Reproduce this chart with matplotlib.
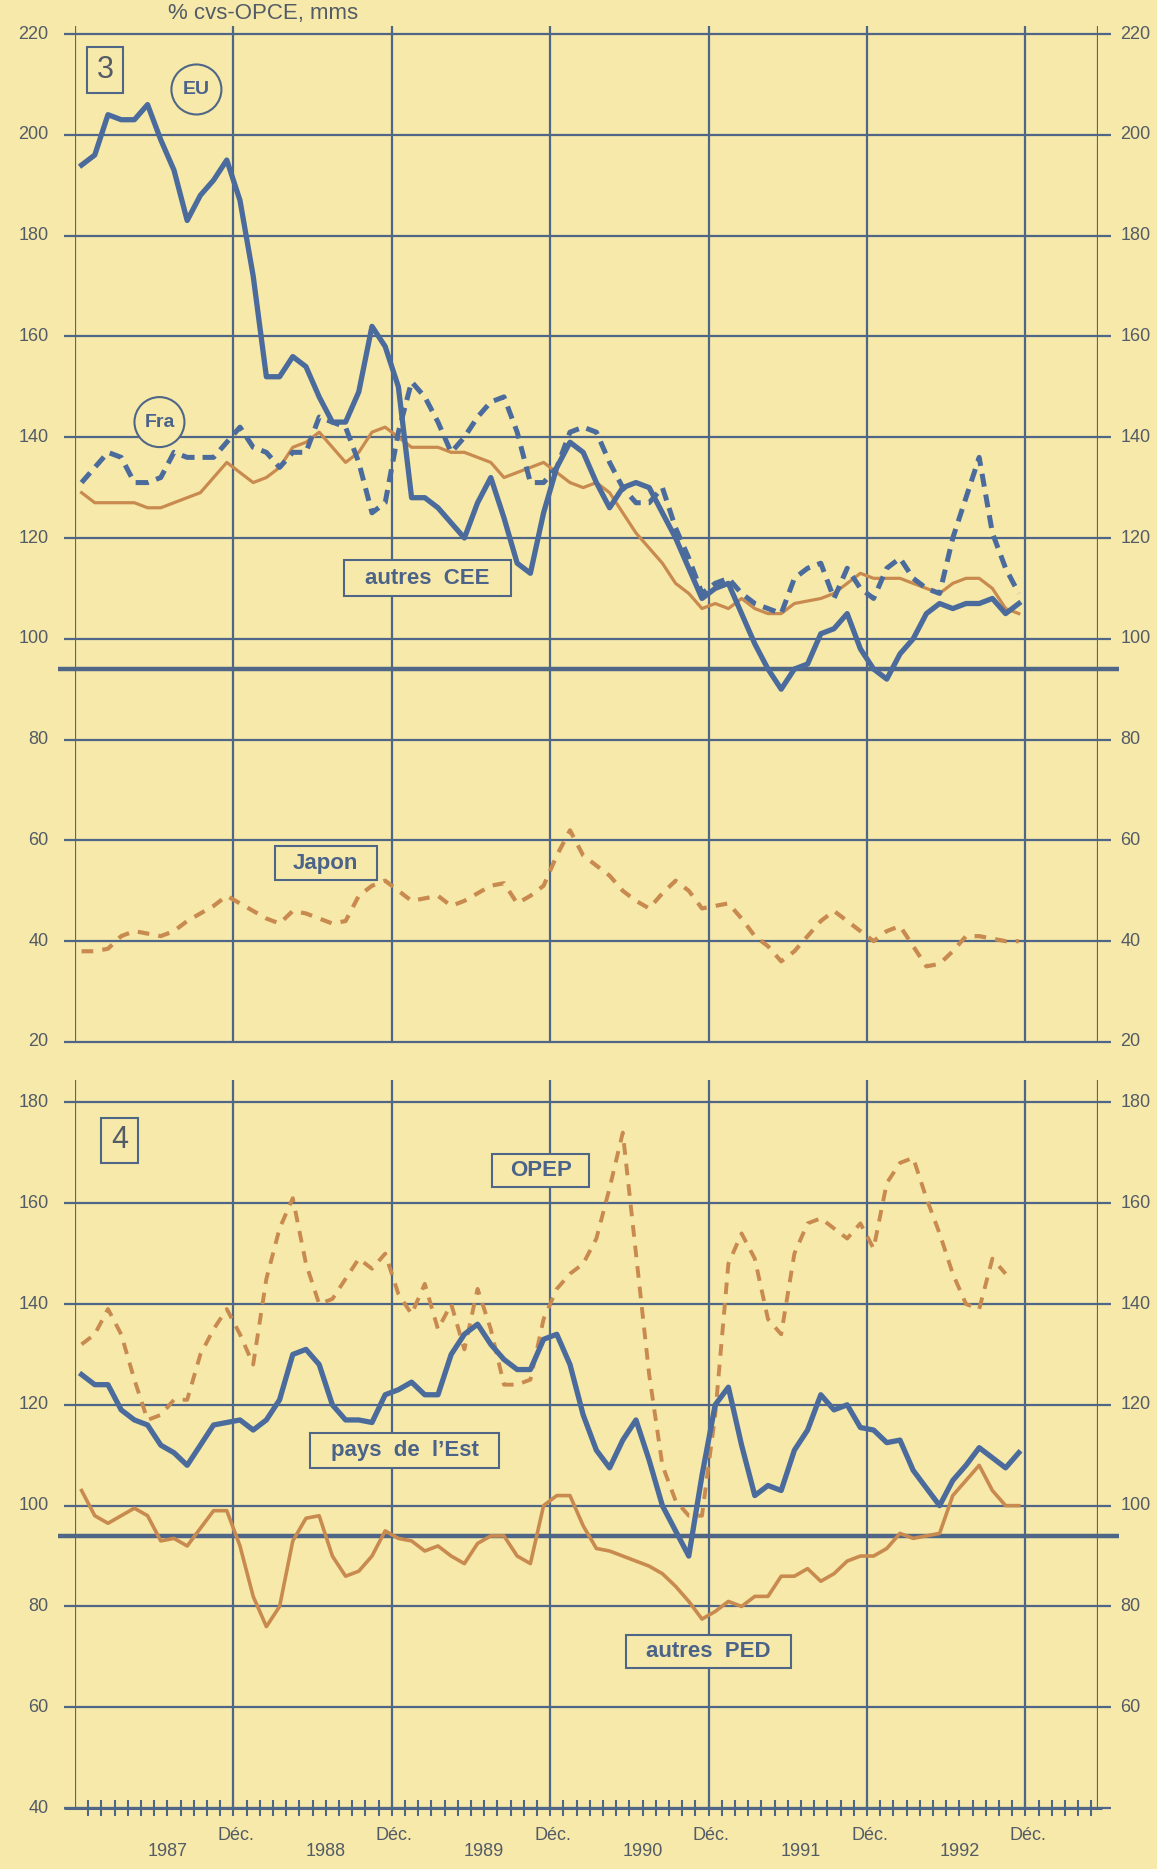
import numpy as np
import matplotlib.pyplot as plt
from matplotlib.patches import Rectangle, Ellipse

plt.rcParams['font.family'] = ['Liberation Sans', 'DejaVu Sans']

# Indices mensuels, janvier 1987 -> décembre 1992
eu = [194, 196, 204, 203, 203, 206, 199, 193, 183, 188, 191, 195,
      187, 172, 152, 152, 156, 154, 148, 143, 143, 149, 162, 158,
      150, 128, 128, 126, 123, 120, 127, 132, 124, 115, 113, 125,
      134, 139, 137, 131, 126, 130, 131, 130, 125, 120, 114, 108,
      110, 111, 105, 99, 94, 90, 94, 95, 101, 102, 105, 98,
      94, 92, 97, 100, 105, 107, 106, 107, 107, 108, 105, 107]
cee = [131, 134, 137, 136, 131, 131, 132, 137, 136, 136, 136, 139,
       142, 138, 137, 134, 137, 137, 144, 143, 142, 135, 125, 127,
       141, 151, 148, 143, 137, 140, 144, 147, 148, 141, 131, 131,
       134, 141, 142, 141, 135, 130, 127, 127, 130, 122, 116, 109,
       111, 112, 109, 107, 106, 105, 112, 114, 115, 108, 114, 110,
       108, 114, 116, 112, 110, 109, 120, 128, 136, 121, 114, 109]
france = [129, 127, 127, 127, 127, 126, 126, 127, 128, 129, 132, 135,
          133, 131, 132, 134, 138, 139, 141, 138, 135, 137, 141, 142,
          140, 138, 138, 138, 137, 137, 136, 135, 132, 133, 134, 135,
          133, 131, 130, 131, 129, 125, 121, 118, 115, 111, 109, 106,
          107, 106, 108, 106, 105, 105, 107, 107.5, 108, 109, 111, 113,
          112, 112, 112, 111, 110, 109, 111, 112, 112, 110, 106, 105]
japon = [38, 38, 38.5, 41, 42, 41.5, 41, 42, 44, 45.5, 47, 49,
         47.5, 46, 44.5, 43.5, 46, 45.5, 44.5, 43.5, 44, 49, 51, 52,
         50, 48, 48.5, 49, 47, 48, 49.5, 51, 51.5, 47.5, 49, 51,
         57, 62, 57, 55, 53, 50, 48, 46.5, 49.5, 52, 50, 46.5,
         47, 47.5, 44.5, 41, 39, 36, 38, 41, 44, 46, 44, 42,
         40, 42, 43, 39, 35, 35.5, 38, 41, 41, 40.5, 40, 40]

opep = [132, 134, 139, 134, 125, 117, 118, 121, 121, 130, 135, 139,
        134, 128, 145, 155, 161, 148, 140, 141, 145, 149, 147, 150,
        142, 138, 144, 135, 140, 131, 143, 135, 124, 124, 125, 137,
        143, 146, 148, 153, 163, 174, 150, 126, 108, 101, 98, 98,
        118, 148, 154, 149, 137, 134, 150, 156, 157, 155, 153, 156,
        151, 164, 168, 169, 161, 154, 146, 140, 139, 149, 146]
est = [126, 124, 124, 119, 117, 116, 112, 110.5, 108, 112, 116, 116.5,
       117, 115, 117, 121, 130, 131, 128, 120, 117, 117, 116.5, 122,
       123, 124.5, 122, 122, 130, 134, 136, 132, 129, 127, 127, 133,
       134, 128, 118, 111, 107.5, 113, 117, 109, 100, 95, 90, 106,
       120, 123.5, 112, 102, 104, 103, 111, 115, 122, 119, 120, 115.5,
       115, 112.5, 113, 107, 103.5, 100, 105, 108, 111.5, 109.5, 107.5, 110.5]
ped = [103, 98, 96.5, 98, 99.5, 98, 93, 93.5, 92, 95.5, 99, 99,
       92, 82, 76, 80, 93, 97.5, 98, 90, 86, 87, 90, 95,
       93.5, 93, 91, 92, 90, 88.5, 92.5, 94, 94, 90, 88.5, 100,
       102, 102, 96, 91.5, 91, 90, 89, 88, 86.5, 84, 81, 77.5,
       79, 81, 80, 82, 82, 86, 86, 87.5, 85, 86.5, 89, 90,
       90, 91.5, 94.5, 93.5, 94, 94.5, 102, 105, 108, 103, 100, 100]

annees = ['1987', '1988', '1989', '1990', '1991', '1992']
decembres = [12, 24, 36, 48, 60, 72]
graduations_haut = [20, 40, 60, 80, 100, 120, 140, 160, 180, 200, 220]
graduations_bas = [40, 60, 80, 100, 120, 140, 160, 180]

papier = '#f6e9aa'
grille = '#4f6686'
bleu = '#4a6b9c'
orange = '#c98a4f'
encre = '#535b66'
encre_bleue = '#4c6389'

fig = plt.figure(figsize=(11.57, 18.69), dpi=100, facecolor=papier)
ax1 = fig.add_axes([0.0648, 0.4425, 0.8842, 0.5436])
ax2 = fig.add_axes([0.0648, 0.0326, 0.8842, 0.3897])

XMAX = 77.5


def px_to_data(ax, w, h):
    # convertit une taille en pixels en unités de données
    bb = ax.get_window_extent()
    x0, x1 = ax.get_xlim()
    y0, y1 = ax.get_ylim()
    return w * (x1 - x0) / bb.width, h * (y1 - y0) / bb.height


def cadre(ax, y0, y1, graduations, droite):
    ax.set_xlim(0, XMAX)
    ax.set_ylim(y0, y1)
    ax.set_facecolor('none')
    for s in ax.spines.values():
        s.set_visible(False)
    ax.set_yticks([])
    ax.hlines(graduations, -0.8, XMAX + 1.0, color=grille, lw=1.6, zorder=1, clip_on=False)
    ax.vlines([0] + decembres + [XMAX], graduations[0], y1, color=grille, lw=1.6, zorder=1)
    ax.hlines(94, -1.3, XMAX + 1.6, color=grille, lw=3.2, zorder=1, clip_on=False)
    for v in graduations:
        ax.text(-2.0, v, str(v), ha='right', va='center', fontsize=13, color=encre)
    for v in droite:
        ax.text(XMAX + 1.7, v, str(v), ha='left', va='center', fontsize=13, color=encre)


def boite(ax, x, y, txt, w, h, size=16, weight='bold', color=encre_bleue):
    dx, dy = px_to_data(ax, w, h)
    ax.add_patch(Rectangle((x - dx / 2, y - dy / 2), dx, dy, fc=papier, ec=grille,
                           lw=1.5, zorder=5))
    ax.text(x, y, txt, ha='center', va='center', fontsize=size, fontweight=weight,
            color=color, zorder=6)


def rond(ax, x, y, txt, r, size=14):
    dx, dy = px_to_data(ax, 2 * r, 2 * r)
    ax.add_patch(Ellipse((x, y), dx, dy, fc=papier, ec=grille, lw=1.5, zorder=5))
    ax.text(x, y, txt, ha='center', va='center', fontsize=size, fontweight='bold',
            color=encre_bleue, zorder=6)


# Panneau 3
cadre(ax1, 20, 221.6, graduations_haut, graduations_haut)
ax1.set_xticks([])
m = np.arange(72) + 0.5
ax1.plot(m, france, color=orange, lw=2.3, zorder=3)
ax1.plot(m, japon, color=orange, lw=3.0, dashes=(2.8, 2.2), zorder=3)
ax1.plot(m, cee, color=bleu, lw=3.6, dashes=(2.6, 1.6), zorder=3)
ax1.plot(m, eu, color=bleu, lw=3.8, zorder=4)

boite(ax1, 2.3, 212.9, '3', 36, 46, size=22, weight='light', color=encre)
rond(ax1, 9.2, 209, 'EU', 25)
rond(ax1, 6.4, 143, 'Fra', 25)
boite(ax1, 26.7, 112, 'autres  CEE', 167, 36)
boite(ax1, 19.0, 55.5, 'Japon', 102, 34)

# Panneau 4
cadre(ax2, 40, 184.5, graduations_bas, graduations_bas[1:])
ax2.hlines(40, -0.8, XMAX + 0.3, color=grille, lw=2.2, zorder=1, clip_on=False)
ax2.set_xticks(decembres)
ax2.set_xticks(np.arange(1, 78), minor=True)
ax2.tick_params(which='both', direction='inout', length=11, width=1.5, color=grille,
                labelbottom=False)
ax2.plot(np.arange(len(ped)) + 0.5, ped, color=orange, lw=2.6, zorder=3)
ax2.plot(np.arange(len(opep)) + 0.5, opep, color=orange, lw=2.8, dashes=(3.0, 2.3), zorder=3)
ax2.plot(np.arange(len(est)) + 0.5, est, color=bleu, lw=3.8, zorder=4)

boite(ax2, 3.4, 172.5, '4', 37, 45, size=22, weight='light', color=encre)
boite(ax2, 35.3, 166.4, 'OPEP', 97, 33)
boite(ax2, 25.0, 111, 'pays  de  l\u2019Est', 189, 35)
boite(ax2, 48.0, 71, 'autres  PED', 165, 33)

etroit = ['Liberation Sans Narrow', 'Liberation Sans', 'DejaVu Sans']
for d in decembres:
    ax2.text(d + 0.2, 34.6, 'Déc.', ha='center', va='center', fontsize=13,
             color=encre, family=etroit)
for k, a in enumerate(annees):
    ax2.text(12 * k + 7.0, 31.4, a, ha='center', va='center', fontsize=13,
             color=encre, family=etroit)

fig.text(0.227, 1 - 19 / 1869, '% cvs-OPCE, mms', ha='center', va='baseline',
         fontsize=16, color=encre)

fig.savefig('out.png', dpi=100, facecolor=papier)
